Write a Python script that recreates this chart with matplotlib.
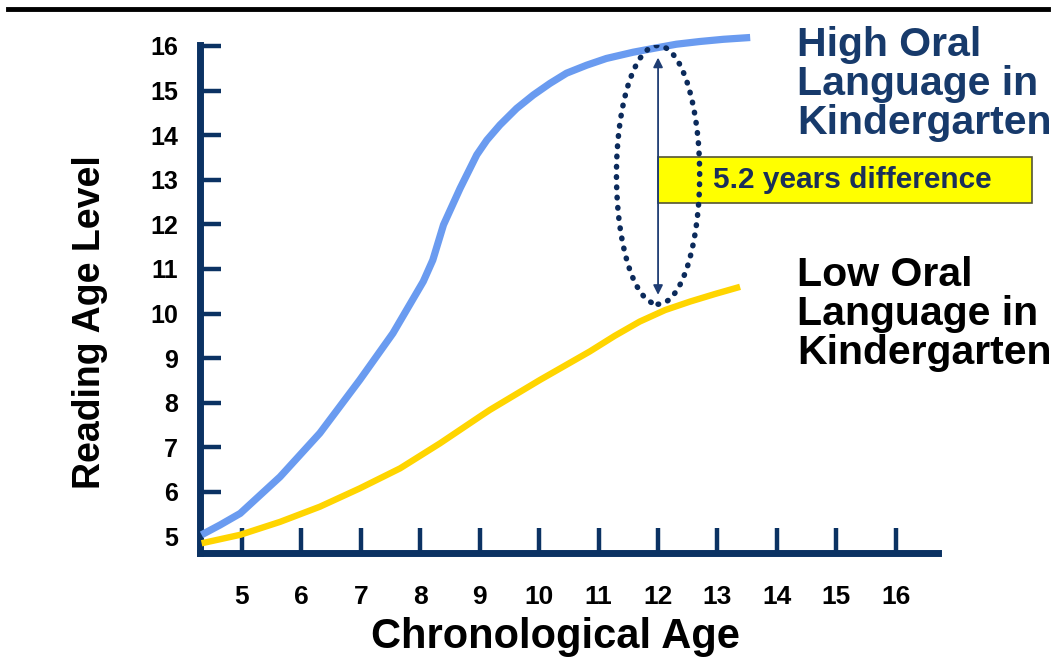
import matplotlib
matplotlib.use("Agg")
import matplotlib.pyplot as plt
from matplotlib.patches import Ellipse, Rectangle

plt.rcParams['font.family'] = ['Liberation Sans', 'DejaVu Sans']
plt.rcParams['font.weight'] = 'bold'

# Data
high_age = [4.32, 4.63, 4.97, 5.64, 6.31, 6.98, 7.54, 8.05, 8.21, 8.39, 8.67, 8.95, 9.12, 9.34,
            9.62, 9.90, 10.18, 10.46, 10.80, 11.13, 11.58, 11.98, 12.31, 12.70, 13.10, 13.55]
high_read = [5.04, 5.26, 5.52, 6.34, 7.32, 8.51, 9.56, 10.72, 11.2, 11.99, 12.81, 13.56, 13.89, 14.23,
             14.60, 14.90, 15.16, 15.39, 15.57, 15.72, 15.86, 15.96, 16.04, 16.10, 16.15, 16.19]
low_age = [4.32, 4.97, 5.64, 6.31, 6.98, 7.66, 8.33, 9.0, 9.17, 10.01, 10.85, 11.27, 11.69, 12.12,
           12.54, 12.96, 13.38]
low_read = [4.85, 5.04, 5.33, 5.67, 6.08, 6.53, 7.09, 7.69, 7.84, 8.51, 9.15, 9.50, 9.82, 10.08,
            10.27, 10.44, 10.60]
x_ticks = [5, 6, 7, 8, 9, 10, 11, 12, 13, 14, 15, 16]
y_ticks = [5, 6, 7, 8, 9, 10, 11, 12, 13, 14, 15, 16]
gap_age = 12.0
gap_top = 15.74
gap_bottom = 10.42
gap_label = "5.2 years difference"
high_label = "High Oral\nLanguage in\nKindergarten"
low_label = "Low Oral\nLanguage in\nKindergarten"

navy = '#0b3263'
W, H = 1057, 660
fig = plt.figure(figsize=(W / 100, H / 100), dpi=100)
ax = fig.add_axes([200 / W, 1 - 553 / H, 738 / W, 508 / H])

ax.plot(low_age, low_read, color='#ffd500', lw=4.6, solid_capstyle='butt',
        solid_joinstyle='round', zorder=3, clip_on=False)
ax.plot(high_age, high_read, color='#6a9bf0', lw=5.2, solid_capstyle='butt',
        solid_joinstyle='round', zorder=4, clip_on=False)

ax.set_xlim(4.293, 16.71)
ax.set_ylim(4.632, 16.022)

for s in ['top', 'right']:
    ax.spines[s].set_visible(False)
for s in ['left', 'bottom']:
    ax.spines[s].set_color(navy)
    ax.spines[s].set_linewidth(5)
    ax.spines[s].set_capstyle('projecting')

ax.set_xticks(x_ticks)
ax.set_yticks(y_ticks)
ax.set_xticklabels([str(v) for v in x_ticks], fontsize=19, fontweight='bold')
ax.set_yticklabels([str(v) for v in y_ticks], fontsize=18, fontweight='bold')
ax.tick_params(axis='x', direction='in', length=18, width=3.2, color=navy, pad=23)
ax.tick_params(axis='y', direction='in', length=15, width=3.2, color=navy, pad=16)
ax.yaxis.get_major_ticks()[0].tick1line.set_visible(False)

# ellipse + arrow
ell = Ellipse((gap_age, (gap_top + gap_bottom) / 2 + 0.03), 1.40, 5.80, fill=False,
              edgecolor='#0b2a5b', lw=4.0, linestyle=(0, (0.1, 1.75)), zorder=6)
ell.set_capstyle('round')
ax.add_patch(ell)
ax.annotate('', xy=(gap_age, gap_top), xytext=(gap_age, gap_bottom),
            arrowprops=dict(arrowstyle='<|-|>', color='#1f3d73', lw=1.3,
                            mutation_scale=14, shrinkA=0, shrinkB=0), zorder=5)

# label box
bx0 = (658 - 200) / 738
bx1 = (1032 - 200) / 738
by0 = (553 - 203) / 508
by1 = (553 - 157) / 508
ax.add_patch(Rectangle((bx0, by0), bx1 - bx0, by1 - by0, transform=ax.transAxes,
                       facecolor='#ffff00', edgecolor='#555533', lw=1.2,
                       clip_on=False, zorder=4))
ax.text((713 - 200) / 738, (553 - 180) / 508, gap_label, transform=ax.transAxes,
        fontsize=21.5, fontweight='bold', color='#1a2f5a', va='center', ha='left',
        zorder=7)

# side labels
fig.text(797 / W, 1 - 84 / H, high_label, fontsize=29.5, fontweight='bold',
         color='#173a6b', ha='left', va='center', linespacing=1.03)
fig.text(797 / W, 1 - 314 / H, low_label, fontsize=29.5, fontweight='bold',
         color='black', ha='left', va='center', linespacing=1.03)

# axis labels
fig.text(90 / W, 1 - 322 / H, "Reading Age Level", rotation=90, fontsize=27,
         fontweight='bold', ha='center', va='center')
fig.text(555 / W, 1 - 637 / H, "Chronological Age", fontsize=30,
         fontweight='bold', ha='center', va='center')

# top rule
fig.add_artist(plt.Line2D([8 / W, 1048 / W], [1 - 9 / H, 1 - 9 / H], color='black', lw=3.5))

fig.savefig('out.png', dpi=100)
